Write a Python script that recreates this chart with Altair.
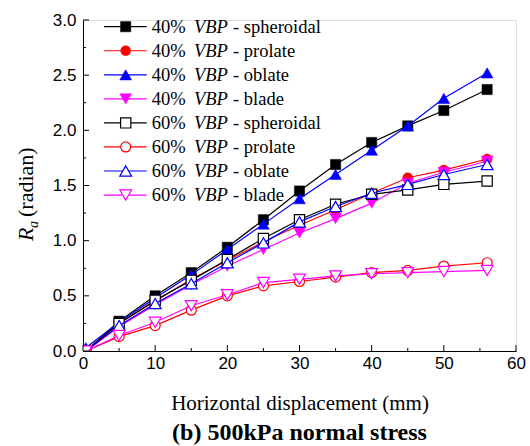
import altair as alt
import pandas as pd

# ---------------- data ----------------
x_vals = [0.4, 5, 10, 15, 20, 25, 30, 35, 40, 45, 50, 56]

series_names = [
    "40% VBP - spheroidal", "40% VBP - prolate", "40% VBP - oblate", "40% VBP - blade",
    "60% VBP - spheroidal", "60% VBP - prolate", "60% VBP - oblate", "60% VBP - blade",
]
legend_pre = ["40%", "40%", "40%", "40%", "60%", "60%", "60%", "60%"]
legend_it = ["VBP"] * 8
legend_post = ["- spheroidal", "- prolate", "- oblate", "- blade",
               "- spheroidal", "- prolate", "- oblate", "- blade"]

s40_sph = [0.0, 0.27, 0.50, 0.71, 0.94, 1.19, 1.45, 1.69, 1.89, 2.04, 2.18, 2.37]
s40_pro = [0.0, 0.25, 0.45, 0.65, 0.82, 0.99, 1.14, 1.28, 1.43, 1.57, 1.64, 1.74]
s40_obl = [0.03, 0.26, 0.48, 0.69, 0.92, 1.15, 1.38, 1.60, 1.82, 2.04, 2.29, 2.52]
s40_bla = [0.0, 0.22, 0.42, 0.60, 0.77, 0.92, 1.07, 1.20, 1.34, 1.52, 1.62, 1.72]
s60_sph = [0.0, 0.25, 0.46, 0.64, 0.83, 1.02, 1.19, 1.33, 1.42, 1.46, 1.51, 1.54]
s60_pro = [0.0, 0.13, 0.23, 0.37, 0.50, 0.59, 0.63, 0.67, 0.71, 0.73, 0.77, 0.80]
s60_obl = [0.0, 0.23, 0.43, 0.61, 0.80, 0.98, 1.17, 1.31, 1.43, 1.51, 1.60, 1.69]
s60_bla = [0.0, 0.14, 0.26, 0.41, 0.51, 0.62, 0.65, 0.68, 0.70, 0.71, 0.72, 0.73]
series_values = [s40_sph, s40_pro, s40_obl, s40_bla, s60_sph, s60_pro, s60_obl, s60_bla]

x_major = [0, 10, 20, 30, 40, 50, 60]
x_minor = [5, 15, 25, 35, 45, 55]
y_major = [0, 0.5, 1.0, 1.5, 2.0, 2.5, 3.0]
y_minor = [0.25, 0.75, 1.25, 1.75, 2.25, 2.75]

x_title = "Horizontal displacement (mm)"
chart_title = "(b) 500kPa normal stress"
y_title_parts = ["R", "a", "(radian)"]

# ---------------- styles ----------------
SERIF = "Liberation Serif, Times New Roman, serif"
SANS = "Liberation Sans, Arial, sans-serif"
colors = ["#000000", "#FF0000", "#0000FF", "#FF00FF"] * 2
shapes = ["square", "circle", "triangle-up", "triangle-down"] * 2
sizes = [105, 100, 140, 140] * 2
filled = [True] * 4 + [False] * 4

W, H = 433, 331

rows = []
for name, ys in zip(series_names, series_values):
    for xv, yv in zip(x_vals, ys):
        rows.append({"series": name, "x": xv, "y": yv})
df = pd.DataFrame(rows)

xscale = alt.Scale(domain=[0, 60], nice=False, zero=False)
yscale = alt.Scale(domain=[0, 3], nice=False, zero=False)

xaxis = alt.Axis(values=x_major, format="d", tickSize=0, labelFont=SANS,
                 labelFontSize=17, labelColor="black", labelPadding=4, labelFlush=False,
                 domainColor="black", domainWidth=1, grid=False, title=x_title,
                 titleFont=SERIF, titleFontSize=21, titleFontWeight="normal",
                 titleColor="black", titlePadding=21)
yaxis = alt.Axis(values=y_major, format=".1f", tickSize=0, labelFont=SANS,
                 labelFontSize=17, labelColor="black", labelPadding=7, labelFlush=False,
                 domainColor="black", domainWidth=1, grid=False, title=None)

X = alt.X("x:Q", scale=xscale, axis=xaxis)
Y = alt.Y("y:Q", scale=yscale, axis=yaxis)

layers = []
for i, name in enumerate(series_names):
    d = df[df["series"] == name]
    base = alt.Chart(d)
    layers.append(base.mark_line(color=colors[i], strokeWidth=1.2, clip=True).encode(x=X, y=Y))
    layers.append(base.mark_point(shape=shapes[i], size=sizes[i], filled=True, clip=True,
                                  fill=colors[i] if filled[i] else "white",
                                  stroke=colors[i], strokeWidth=1.2 if not filled[i] else 0.5,
                                  opacity=1).encode(x=X, y=Y))

# inward ticks
tx_major = alt.Chart(pd.DataFrame({"x": x_major})).mark_rule(color="black", strokeWidth=1).encode(
    x=X, y=alt.value(H), y2=alt.value(H - 6))
tx_minor = alt.Chart(pd.DataFrame({"x": x_minor})).mark_rule(color="black", strokeWidth=1).encode(
    x=X, y=alt.value(H), y2=alt.value(H - 3))
ty_major = alt.Chart(pd.DataFrame({"y": y_major})).mark_rule(color="black", strokeWidth=1).encode(
    y=Y, x=alt.value(0), x2=alt.value(6))
ty_minor = alt.Chart(pd.DataFrame({"y": y_minor})).mark_rule(color="black", strokeWidth=1).encode(
    y=Y, x=alt.value(0), x2=alt.value(3))

# manual legend
leg = pd.DataFrame({"row": list(range(8)), "pre": legend_pre, "it": legend_it, "post": legend_post})
leg_y = alt.Y("py:Q", scale=None, axis=None)
leg_layers = []
for i in range(8):
    d = leg[leg["row"] == i]
    b = alt.Chart(d).transform_calculate(py="6.7 + datum.row * 24.05")
    leg_layers.append(b.mark_rule(color=colors[i], strokeWidth=1.2).encode(
        x=alt.value(21), x2=alt.value(63.7), y=leg_y))
    leg_layers.append(b.mark_point(shape=shapes[i], size=sizes[i], filled=True,
                                   fill=colors[i] if filled[i] else "white",
                                   stroke=colors[i], strokeWidth=1.2 if not filled[i] else 0.5,
                                   opacity=1).encode(x=alt.value(42.7), y=leg_y))
b = alt.Chart(leg).transform_calculate(py="6.7 + datum.row * 24.05")
tstyle = dict(font=SERIF, fontSize=18.5, color="black", align="left", baseline="middle")
leg_layers.append(b.mark_text(**tstyle).encode(x=alt.value(68.7), y=leg_y, text="pre:N"))
leg_layers.append(b.mark_text(fontStyle="italic", **tstyle).encode(x=alt.value(111), y=leg_y, text="it:N"))
leg_layers.append(b.mark_text(**tstyle).encode(x=alt.value(150), y=leg_y, text="post:N"))

# y title (R_a (radian))
yt = pd.DataFrame({"t": y_title_parts})
ytitle = [
    alt.Chart(yt[yt["t"] == "R"]).mark_text(font=SERIF, fontSize=22, fontStyle="italic",
                                            angle=270, align="left", baseline="alphabetic",
                                            color="black").encode(x=alt.value(-50), y=alt.value(221), text="t:N"),
    alt.Chart(yt[yt["t"] == "a"]).mark_text(font=SERIF, fontSize=14, fontStyle="italic",
                                            angle=270, align="left", baseline="alphabetic",
                                            color="black").encode(x=alt.value(-45), y=alt.value(208), text="t:N"),
    alt.Chart(yt[yt["t"] == "(radian)"]).mark_text(font=SERIF, fontSize=22,
                                                   angle=270, align="left", baseline="alphabetic",
                                                   color="black").encode(x=alt.value(-50), y=alt.value(197), text="t:N"),
]

chart = alt.layer(*layers, tx_major, tx_minor, ty_major, ty_minor, *leg_layers, *ytitle).properties(
    width=W, height=H,
    title=alt.TitleParams(text=chart_title, orient="bottom", anchor="middle", font=SERIF,
                          fontSize=24, fontWeight="bold", color="black", offset=8),
    autosize=alt.AutoSizeParams(type="none"),
    padding={"left": 83, "top": 20, "right": 14, "bottom": 95},
).configure_view(stroke=None).configure(background="white")

chart.save("out.html", embed_options={"renderer": "svg", "actions": False})
